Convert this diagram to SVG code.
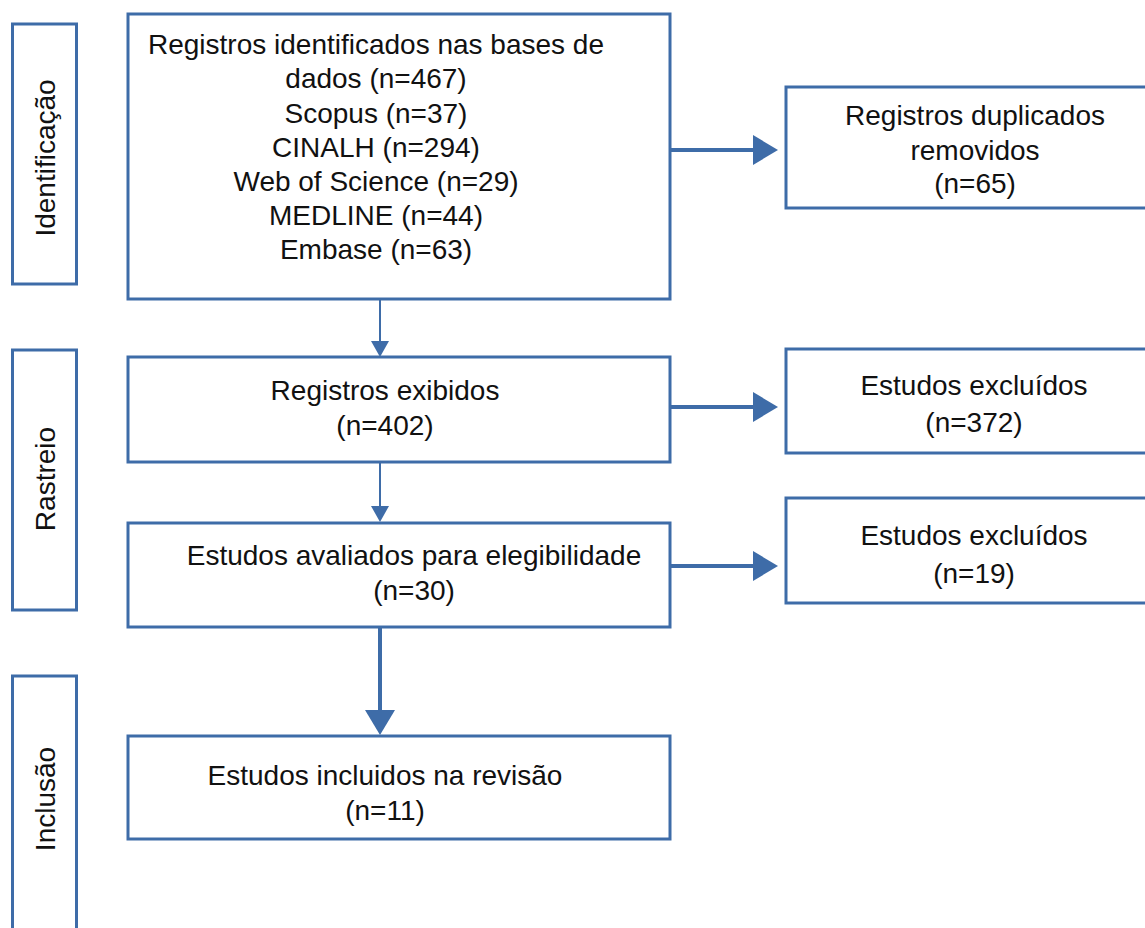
<svg xmlns="http://www.w3.org/2000/svg" width="1145" height="928" viewBox="0 0 1145 928">
<style>
.box{fill:#fff;stroke:#3E6CA8;stroke-width:3}
.t{font-family:"Liberation Sans",Arial,sans-serif;font-size:28px;fill:#111;text-anchor:middle}
.thin{stroke:#3E6CA8;stroke-width:2;fill:none}
.thick{stroke:#3E6CA8;stroke-width:4;fill:none}
</style>
<defs>
<marker id="big" markerUnits="userSpaceOnUse" markerWidth="26" markerHeight="30" refX="0" refY="15" orient="auto">
<path d="M0,0 L25,15 L0,30 z" fill="#3E6CA8"/>
</marker>
<marker id="small" markerUnits="userSpaceOnUse" markerWidth="17" markerHeight="18" refX="0" refY="9" orient="auto">
<path d="M0,0 L16,9 L0,18 z" fill="#3E6CA8"/>
</marker>
</defs>
<rect width="1145" height="928" fill="#fff"/>
<g id="connectors">
<line class="thin" x1="380" y1="299" x2="380" y2="341" marker-end="url(#small)"/>
<line class="thin" x1="380" y1="462" x2="380" y2="506" marker-end="url(#small)"/>
<line class="thick" x1="380" y1="627" x2="380" y2="710" marker-end="url(#big)"/>
<line class="thick" x1="670" y1="150" x2="753" y2="150" marker-end="url(#big)"/>
<line class="thick" x1="670" y1="407" x2="753" y2="407" marker-end="url(#big)"/>
<line class="thick" x1="670" y1="566" x2="753" y2="566" marker-end="url(#big)"/>
</g>
<g id="stage-identificacao">
<rect class="box" x="12.5" y="24" width="64" height="260"/>
<text class="t" transform="translate(55,158) rotate(-90)">Identificação</text>
</g>
<g id="stage-rastreio">
<rect class="box" x="12.5" y="350" width="64" height="260"/>
<text class="t" transform="translate(55,479) rotate(-90)">Rastreio</text>
</g>
<g id="stage-inclusao">
<rect class="box" x="12.5" y="676" width="64" height="270"/>
<text class="t" transform="translate(55,799) rotate(-90)">Inclusão</text>
</g>
<g id="n-identificados">
<rect class="box" x="128" y="14" width="542" height="285"/>
<text class="t" x="376" y="54">Registros identificados nas bases de</text>
<text class="t" x="376" y="88">dados (n=467)</text>
<text class="t" x="376" y="123">Scopus (n=37)</text>
<text class="t" x="376" y="157">CINALH (n=294)</text>
<text class="t" x="376" y="191">Web of Science (n=29)</text>
<text class="t" x="376" y="225">MEDLINE (n=44)</text>
<text class="t" x="376" y="259">Embase (n=63)</text>
</g>
<g id="n-duplicados">
<rect class="box" x="786" y="87" width="370" height="121"/>
<text class="t" x="975" y="125">Registros duplicados</text>
<text class="t" x="975" y="160">removidos</text>
<text class="t" x="975" y="193">(n=65)</text>
</g>
<g id="n-exibidos">
<rect class="box" x="128" y="357" width="542" height="105"/>
<text class="t" x="385" y="400">Registros exibidos</text>
<text class="t" x="385" y="435">(n=402)</text>
</g>
<g id="n-excluidos1">
<rect class="box" x="786" y="349" width="370" height="104"/>
<text class="t" x="974" y="395">Estudos excluídos</text>
<text class="t" x="974" y="432">(n=372)</text>
</g>
<g id="n-avaliados">
<rect class="box" x="128" y="523" width="542" height="104"/>
<text class="t" x="414" y="565">Estudos avaliados para elegibilidade</text>
<text class="t" x="414" y="600">(n=30)</text>
</g>
<g id="n-excluidos2">
<rect class="box" x="786" y="498" width="370" height="105"/>
<text class="t" x="974" y="545">Estudos excluídos</text>
<text class="t" x="974" y="583">(n=19)</text>
</g>
<g id="n-incluidos">
<rect class="box" x="128" y="736" width="542" height="103"/>
<text class="t" x="385" y="785">Estudos incluidos na revisão</text>
<text class="t" x="385" y="820">(n=11)</text>
</g>
</svg>
